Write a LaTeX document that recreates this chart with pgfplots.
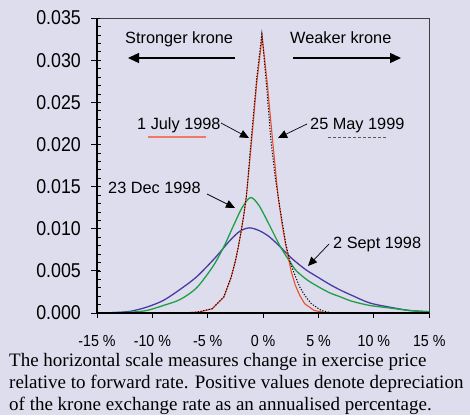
\documentclass[border=0pt]{standalone}
\usepackage{fontspec}
\usepackage{pgfplots}
\pgfplotsset{compat=1.18}
\usetikzlibrary{arrows.meta}
\setmainfont{Liberation Serif}
\newfontfamily\sans{Liberation Sans}
\newfontfamily\ticksans[FakeStretch=0.89]{Liberation Sans}
\definecolor{bg}{RGB}{221,221,238}
\definecolor{cred}{RGB}{238,78,45}
\definecolor{cgreen}{RGB}{30,160,70}
\definecolor{cblue}{RGB}{72,61,160}
\definecolor{ulred}{RGB}{240,120,100}
\begin{document}
\begin{tikzpicture}
\path[use as bounding box, fill=bg] (0,0) rectangle (470pt,415pt);
\begin{axis}[
  at={(97pt,102pt)}, anchor=south west,
  scale only axis, width=332.3pt, height=295pt,
  xmin=-15, xmax=15, ymin=0, ymax=0.035,
  scaled y ticks=false,
  axis line style={draw=none},
  tick style={draw=none},
  tick align=inside,
  xtick={-15,-10,-5,0,5,10,15},
  xticklabels={-15 \%,-10 \%,-5 \%,0 \%,5 \%,10 \%,15 \%},
  ytick={0,0.005,0.01,0.015,0.02,0.025,0.03,0.035},
  yticklabels={0.000,0.005,0.010,0.015,0.020,0.025,0.030,0.035},
  xticklabel style={font=\ticksans\fontsize{16}{16}\selectfont, inner sep=0pt, anchor=north, yshift=-22pt},
  yticklabel style={font=\ticksans\fontsize{20}{20}\selectfont, inner sep=0pt, anchor=east, xshift=-16pt},
  clip=false,
]
% 2 Sept 1998
\addplot[cblue, line width=1.3pt, smooth, tension=0.5] coordinates {
(-15,0) (-13.5,0.00005) (-12,0.0002) (-10.5,0.0007) (-9,0.0015) (-7.5,0.0028) (-6,0.0043) (-4.3,0.0066) (-3,0.0086) (-2.1,0.0097) (-1.26,0.0101) (-0.4,0.0098) (0.5,0.0091) (1.5,0.0079) (2.4,0.0067) (3.2,0.0058) (4.0,0.0050) (5.0,0.0042) (6.0,0.0034) (7.0,0.0027) (8.0,0.0021) (9.6,0.0012) (11.4,0.0007) (13.2,0.0003) (15,0.00015)};
% 23 Dec 1998
\addplot[cgreen, line width=1.3pt, smooth, tension=0.5] coordinates {
(-15,0) (-12,0.0001) (-10.5,0.0003) (-9,0.0009) (-7.5,0.0016) (-6,0.0030) (-4.5,0.0056) (-3.5,0.0080) (-2.7,0.0103) (-1.9,0.0125) (-1.14,0.0137) (-0.4,0.0128) (0.5,0.0106) (1.5,0.0080) (2.3,0.0063) (3.0,0.0050) (4.0,0.0039) (5.0,0.0031) (6.0,0.0024) (7.0,0.0019) (8.0,0.0014) (9.6,0.0009) (11.4,0.0006) (13.2,0.0003) (15,0.00015)};
% 1 July 1998
\addplot[cred, line width=1.1pt] coordinates {
(-15,0) (-7.5,0) (-5.8,0.0001) (-4.6,0.0005) (-3.55,0.0019) (-2.9,0.0042) (-2.5,0.0062) (-2.25,0.0078) (-2.0,0.0096) (-1.75,0.0116) (-1.5,0.0140) (-1.05,0.0203) (-0.57,0.0274) (-0.09,0.0328) (0.36,0.0274) (0.85,0.0205) (1.35,0.0138) (1.7,0.0106) (2.0,0.0083) (2.3,0.0064) (2.56,0.0048) (2.9,0.0033) (3.3,0.0021) (3.75,0.0011) (4.6,0.0003) (5.8,0) (15,0)};
% 25 May 1999
\addplot[black, line width=1pt, dash pattern=on 1.2pt off 1.6pt] coordinates {
(-15,0) (-7.5,0) (-6,0.0001) (-4.6,0.0005) (-3.55,0.0019) (-2.9,0.0042) (-2.5,0.0062) (-2.25,0.0078) (-2.0,0.0096) (-1.75,0.0116) (-1.5,0.0140) (-1.1,0.0203) (-0.62,0.0274) (-0.12,0.0331) (0.28,0.0274) (0.7,0.0205) (1.1,0.0160) (1.5,0.0126) (2.05,0.0082) (2.4,0.0062) (2.8,0.0047) (3.3,0.0031) (3.75,0.0021) (4.35,0.0011) (5.25,0.0003) (6.2,0) (15,0)};
\end{axis}
% frame
\draw[black!75, line width=0.8pt] (97pt,397pt) -- (429.3pt,397pt) -- (429.3pt,102pt);
\draw[black, line width=1.5pt] (97pt,397pt) -- (97pt,102pt);
\draw[black, line width=1.8pt] (96.2pt,102pt) -- (429.3pt,102pt);
% ticks
\foreach \k in {0,...,6} \draw[black, line width=0.9pt] ({97pt+\k*55.383pt},102pt) -- ++(0,-5pt);
\foreach \k in {0,...,7} \draw[black, line width=0.9pt] (91pt,{102pt+\k*42.1429pt}) -- ++(9pt,0);
\foreach \k in {1,...,34} \draw[black, line width=0.7pt] (97pt,{102pt+\k*8.42857pt}) -- ++(4pt,0);
% annotations
\begin{scope}[font=\sans\fontsize{16.3}{16.3}\selectfont]
\node[anchor=base west, inner sep=0pt] at (125pt,371.7pt) {Stronger krone};
\node[anchor=base west, inner sep=0pt] at (290pt,371.7pt) {Weaker krone};
\draw[line width=1.3pt, -{Triangle[length=11pt,width=10pt]}] (235pt,357pt) -- (128pt,357pt);
\draw[line width=1.3pt, -{Triangle[length=11pt,width=10pt]}] (293pt,357pt) -- (401pt,357pt);
\node[anchor=base west, inner sep=0pt] at (137pt,285pt) {1 July 1998};
\draw[ulred, line width=1.1pt] (148pt,278pt) -- (206pt,278pt);
\draw[line width=0.7pt, -{Triangle[length=9pt,width=8pt]}] (221pt,292pt) -- (249pt,277pt);
\node[anchor=base west, inner sep=0pt] at (310pt,285pt) {25 May 1999};
\draw[black!65, line width=0.9pt, dash pattern=on 3pt off 2pt] (328pt,278pt) -- (386pt,278pt);
\draw[line width=0.7pt, -{Triangle[length=9pt,width=8pt]}] (307pt,291pt) -- (278pt,277pt);
\node[anchor=base west, inner sep=0pt] at (108pt,221.7pt) {23 Dec 1998};
\draw[line width=0.7pt, -{Triangle[length=9pt,width=8pt]}] (207pt,221pt) -- (235pt,207pt);
\node[anchor=base west, inner sep=0pt] at (333pt,166.7pt) {2 Sept 1998};
\draw[line width=0.7pt, -{Triangle[length=9pt,width=8pt]}] (329pt,171pt) -- (308pt,149pt);
\end{scope}
% caption
\begin{scope}[font=\fontsize{19}{22}\selectfont]
\node[anchor=base west, inner sep=0pt] at (9pt,49pt) {The horizontal scale measures change in exercise price};
\node[anchor=base west, inner sep=0pt] at (9pt,26.7pt) {relative to forward rate. Positive values denote depreciation};
\node[anchor=base west, inner sep=0pt] at (9pt,5pt) {of the krone exchange rate as an annualised percentage.};
\end{scope}
\end{tikzpicture}
\end{document}
